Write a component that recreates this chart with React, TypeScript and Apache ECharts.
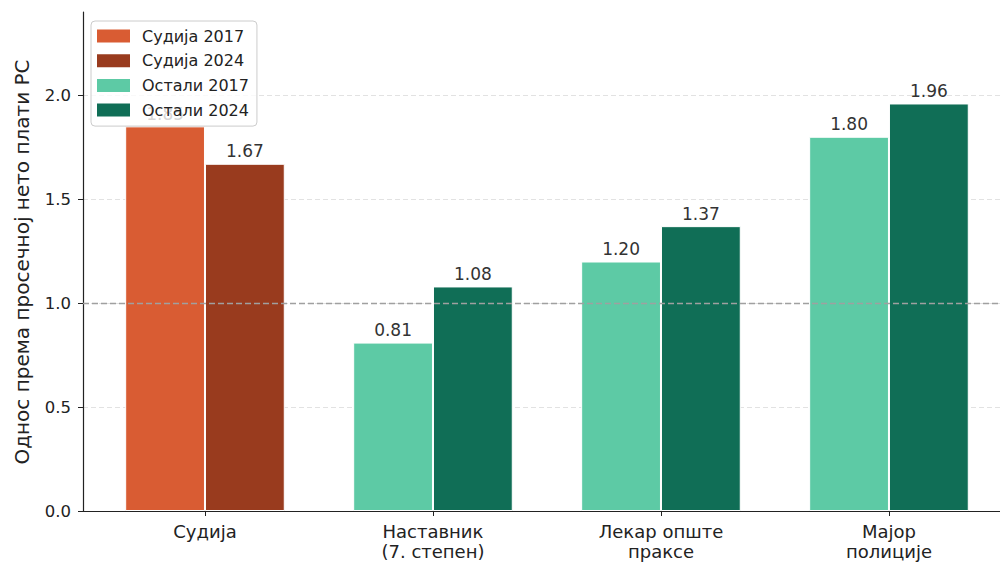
import React, { useEffect, useRef } from "react";
import * as echarts from "echarts";

const categories = ["Судија", "Наставник\n(7. степен)", "Лекар опште\nпраксе", "Мајор\nполиције"];
const judge2017 = [1.85];
const judge2024 = [1.67];
const others2017 = [0.81, 1.2, 1.8];
const others2024 = [1.08, 1.37, 1.96];
const yTicks = [0, 0.5, 1.0, 1.5, 2.0];
const referenceValue = 1.0;
const seriesNames = ["Судија 2017", "Судија 2024", "Остали 2017", "Остали 2024"];
const colors = ["#D95C33", "#993B1E", "#5DCAA5", "#106E56"];
const yTitle = "Однос према просечној нето плати РС";

const FONT = "DejaVu Sans";

export default function App() {
  const ref = useRef<HTMLDivElement>(null);
  useEffect(() => {
    if (!ref.current) return;
    const chart = echarts.init(ref.current, undefined, { renderer: "svg" });
    const judgeIdx = [0];
    const othersIdx = [1, 2, 3];
    const label = {
      show: true,
      position: "top",
      distance: 4,
      color: "#333333",
      fontSize: 17,
      fontFamily: FONT,
      formatter: (p: any) => Number(p.value[1]).toFixed(2),
    };
    const mk = (name: string, idx: number[], vals: number[], color: string, stack: string) => ({
      name,
      type: "bar",
      stack,
      barWidth: 79.8,
      barGap: "0%",
      data: vals.map((v, i) => [idx[i], v]),
      itemStyle: { color, borderColor: "#ffffff", borderWidth: 1 },
      label,
      z: 2,
    });
    const series: any[] = [
      mk(seriesNames[0], judgeIdx, judge2017, colors[0], "y2017"),
      mk(seriesNames[1], judgeIdx, judge2024, colors[1], "y2024"),
      mk(seriesNames[2], othersIdx, others2017, colors[2], "y2017"),
      mk(seriesNames[3], othersIdx, others2024, colors[3], "y2024"),
    ];
    series[3].markLine = {
      silent: true,
      symbol: "none",
      label: { show: false },
      lineStyle: { color: "#a0a0a0", width: 1.3, type: [6, 3] },
      data: [{ yAxis: referenceValue }],
      z: 5,
    };
    chart.setOption({
      animation: false,
      color: colors,
      grid: { left: 83, right: 0, top: 12, bottom: 52 },
      graphic: [
        {
          type: "text",
          x: 22,
          y: 262,
          rotation: Math.PI / 2,
          style: {
            text: yTitle,
            fontSize: 20,
            fontFamily: FONT,
            fill: "#222222",
            align: "center",
            verticalAlign: "middle",
          },
        },
      ],
      legend: {
        data: seriesNames,
        left: 91,
        top: 21,
        orient: "vertical",
        padding: [7, 8, 8, 6],
        itemGap: 8.7,
        itemWidth: 33,
        itemHeight: 13,
        icon: "rect",
        backgroundColor: "rgba(255,255,255,0.8)",
        borderColor: "#cccccc",
        borderWidth: 1,
        borderRadius: 4,
        itemStyle: { borderWidth: 0 },
        textStyle: { fontSize: 16, color: "#222222", fontFamily: FONT, padding: [0, 0, 0, 7] },
        z: 10,
      },
      xAxis: {
        type: "value",
        min: -0.535,
        max: 3.487,
        axisLine: { show: true, onZero: false, lineStyle: { color: "#222222", width: 1.2 } },
        axisTick: { show: true, length: 5, customValues: [0, 1, 2, 3], lineStyle: { color: "#222222", width: 1 } },
        axisLabel: {
          customValues: [0, 1, 2, 3],
          formatter: (v: number) => categories[Math.round(v)] ?? "",
          fontSize: 18,
          lineHeight: 20,
          color: "#222222",
          fontFamily: FONT,
          margin: 10,
        },
        splitLine: { show: false },
      },
      yAxis: {
        type: "value",
        min: 0,
        max: 2.4,
        axisLine: { show: true, onZero: false, lineStyle: { color: "#222222", width: 1.2 } },
        axisTick: { show: true, length: 5, customValues: yTicks, lineStyle: { color: "#222222", width: 1 } },
        axisLabel: {
          customValues: yTicks,
          formatter: (v: number) => v.toFixed(1),
          fontSize: 16.5,
          color: "#222222",
          fontFamily: FONT,
          margin: 12,
        },
        splitLine: { show: true, lineStyle: { color: "#e2e2e2", width: 1, type: [5, 3] } },
      },
      series,
    });
    return () => chart.dispose();
  }, []);
  return <div ref={ref} style={{ width: 1000, height: 563, position: "absolute", left: 0, top: 0 }} />;
}
